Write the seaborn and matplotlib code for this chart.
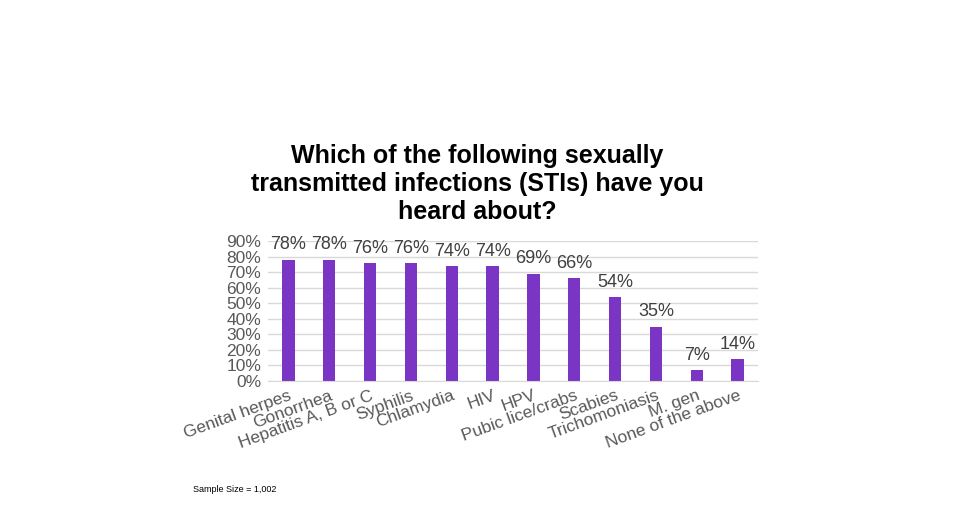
import matplotlib
matplotlib.use("Agg")
import matplotlib.pyplot as plt
import seaborn as sns
import pandas as pd

plt.rcParams["font.family"] = "Liberation Sans"

categories = ["Genital herpes", "Gonorrhea", "Hepatitis A, B or C", "Syphilis", "Chlamydia", "HIV",
              "HPV", "Pubic lice/crabs", "Scabies", "Trichomoniasis", "M. gen", "None of the above"]
values = [78, 78, 76, 76, 74, 74, 69, 66, 54, 35, 7, 14]
yticks = [0, 10, 20, 30, 40, 50, 60, 70, 80, 90]

df = pd.DataFrame({"cat": categories, "val": values})
fig = plt.figure(figsize=(9.8, 5.13), dpi=100)
ax = fig.add_axes([268/980, 1-381/513, (758-268)/980, 140/513])
sns.barplot(data=df, x="cat", y="val", color="#7B35C4", width=0.3, saturation=1, ax=ax)
ax.set_ylim(0, 90)
ax.set_yticks(yticks)
ax.set_yticklabels([f"{t}%" for t in yticks], fontsize=12.5, color="#595959")
ax.set_xticks(range(len(categories)))
ax.set_xticklabels(categories, rotation=20, ha="right", rotation_mode="anchor", fontsize=12.5, color="#595959")
ax.tick_params(length=0, pad=5)
ax.grid(axis="y", color="#D9D9D9", linewidth=1)
ax.set_axisbelow(True)
for s in ["top", "right", "left"]:
    ax.spines[s].set_visible(False)
ax.spines["bottom"].set_color("#D9D9D9")
ax.set_xlabel(""); ax.set_ylabel("")
for i, v in enumerate(values):
    ax.text(i, v + 4, f"{v}%", ha="center", va="bottom", fontsize=13, color="#404040")
fig.text(477/980, 1-184/513, "Which of the following sexually\ntransmitted infections (STIs) have you\nheard about?",
         ha="center", va="center", fontsize=18, fontweight="bold", linespacing=1.2)
fig.text(193/980, 1-490/513, "Sample Size = 1,002", fontsize=6.5, va="center")
fig.savefig("out.png", dpi=100)
